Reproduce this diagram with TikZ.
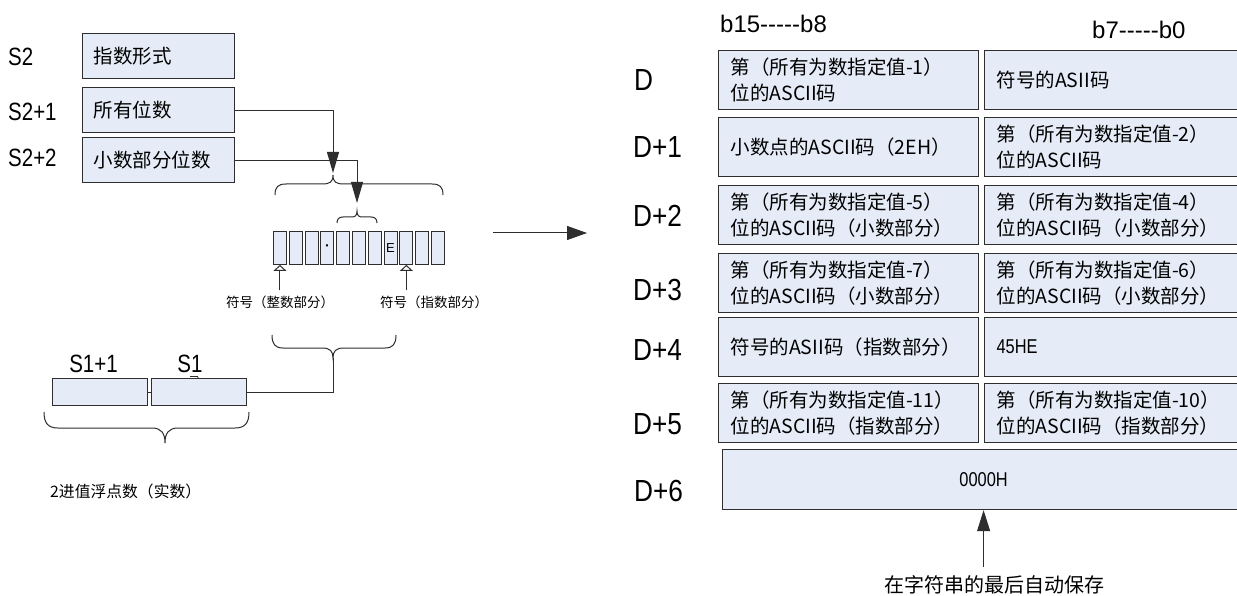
\documentclass[tikz,border=0pt]{standalone}
\usepackage{fontspec}
\setmainfont{Noto Sans CJK SC}
\newfontfamily\narrowf[FakeStretch=0.82]{Liberation Sans}
\newfontfamily\rownarrowf[FakeStretch=0.86]{Liberation Sans}
\newfontfamily\arialf{Liberation Sans}
\usetikzlibrary{arrows.meta}
\definecolor{boxfill}{HTML}{E6ECF7}
\definecolor{linec}{HTML}{2E2E2E}
\newcommand\myrowlbl{\rownarrowf\fontsize{30.5}{30.5}\selectfont}
\newcommand\myslbl{\narrowf\fontsize{25}{25}\selectfont}
\newcommand\mybitlbl{\arialf\fontsize{24}{24}\selectfont}
\newcommand\mytab{\fontsize{19.5}{26}\selectfont}
\newcommand\mysmall{\fontsize{13.5}{14}\selectfont}
\begin{document}
\begin{tikzpicture}[x=1pt,y=-1pt,
  tbox/.style={draw=linec, fill=boxfill, line width=1.2pt, anchor=north west,
    minimum height=59pt, text width=236pt, inner xsep=12pt, inner ysep=0pt,
    align=left, font=\mytab},
  sbox/.style={draw=linec, fill=boxfill, line width=1.2pt, anchor=north west,
    minimum height=45pt, text width=130pt, inner xsep=11pt, inner ysep=0pt,
    align=left, font=\mytab},
  fbox/.style={draw=linec, fill=boxfill, line width=1.2pt, anchor=north west,
    minimum height=27pt, minimum width=95pt, inner sep=0pt},
  cellbox/.style={draw=linec, fill=boxfill, line width=0.9pt, anchor=north west,
    minimum height=33pt, minimum width=13pt, inner sep=0pt},
  conn/.style={draw=linec, line width=1pt},
  bracep/.style={draw=linec, line width=1pt},
  solidtip/.style={-{Triangle[length=21pt,width=12pt]}},
  opentip/.style={-{Triangle[open,length=6pt,width=13pt]}},
  rowlbl/.style={anchor=west, inner sep=0pt, font=\myrowlbl},
  slbl/.style={anchor=west, inner sep=0pt, font=\myslbl},
]
\clip (0,0) rectangle (1237,596);
\fill[white] (0,0) rectangle (1237,596);

% ---------- left: S2 block ----------
\node[slbl] (ls2)  at (8,57)  {S2};
\node[slbl] (ls21) at (8,112) {S2+1};
\node[slbl] (ls22) at (8,158) {S2+2};
\node[sbox] (s2)  at (82,33)  {指数形式};
\node[sbox] (s21) at (82,87)  {所有位数};
\node[sbox] (s22) at (82,137) {小数部分位数};

% ---------- braces above the cells ----------
\draw[bracep] (275,195) .. controls (275,187) and (278,184) .. (286,184) -- (322,184)
  .. controls (330,184) and (333,182) .. (333,175)
  .. controls (333,182) and (336,184) .. (344,184) -- (432,184)
  .. controls (440,184) and (443,187) .. (443,195);
\draw[bracep] (337,223) .. controls (337,219) and (339,217) .. (343,217) -- (351,217)
  .. controls (355,217) and (357,216) .. (357,211)
  .. controls (357,216) and (359,217) .. (363,217) -- (371,217)
  .. controls (375,217) and (377,219) .. (377,223);

\coordinate (tipa) at (333,173);
\coordinate (tipb) at (357,203);
\draw[conn,solidtip] (s21.east) -| (tipa);
\draw[conn,solidtip] (s22.east) -| (tipb);

% ---------- cells ----------
\node[cellbox] (c1)  at (273.0,231) {};
\node[cellbox] (c2)  at (288.8,231) {};
\node[cellbox] (c3)  at (304.6,231) {};
\node[cellbox,font=\arialf\bfseries\fontsize{14}{14}\selectfont] (c4) at (320.4,231) {·};
\node[cellbox] (c5)  at (336.2,231) {};
\node[cellbox] (c6)  at (352.0,231) {};
\node[cellbox] (c7)  at (367.8,231) {};
\node[cellbox,font=\arialf\fontsize{13}{13}\selectfont] (c8) at (383.6,231) {E};
\node[cellbox] (c9)  at (399.4,231) {};
\node[cellbox] (c10) at (415.2,231) {};
\node[cellbox] (c11) at (431.0,231) {};

\node[inner sep=5pt, font=\mysmall] (sg1) at (280,302) {符号（整数部分）};
\node[inner sep=5pt, font=\mysmall] (sg2) at (434,302) {符号（指数部分）};
\draw[conn,opentip] (c1.south |- sg1.north) -- (c1.south);
\draw[conn,opentip] (c9.south |- sg2.north) -- (c9.south);

% ---------- brace below labels and S1 block ----------
\draw[bracep] (272,335) .. controls (272,344) and (275,348) .. (283,348) -- (322,348)
  .. controls (330,348) and (333,351) .. (333,358)
  .. controls (333,351) and (336,348) .. (344,348) -- (385,348)
  .. controls (393,348) and (396,344) .. (396,335);
\coordinate (bcusp) at (333,358);

\node[anchor=center, inner sep=0pt, font=\myslbl] (ls11) at (93.5,364) {S1+1};
\node[anchor=center, inner sep=0pt, font=\myslbl] (ls1)  at (190,364) {S1};
\draw[linec, line width=0.8pt] (190,376.5) -- (197.5,376.5) -- (198.5,378.5);
\node[fbox] (s11) at (52,378)  {};
\node[fbox] (s1)  at (151,378) {};
\draw[conn] (s11.east) -- (s1.west);
\draw[conn] (bcusp) |- (s1.east);

\draw[bracep] (44,412) .. controls (44,423) and (48,428) .. (58,428) -- (152,428)
  .. controls (161,428) and (165,433) .. (165,443)
  .. controls (165,433) and (169,428) .. (178,428) -- (235,428)
  .. controls (245,428) and (249,423) .. (249,412);
\node[anchor=west, inner sep=0pt, font=\fontsize{15.8}{16}\selectfont] (real) at (50,491) {2进值浮点数（实数）};

% ---------- middle arrow ----------
\coordinate (ma) at (493,233);
\coordinate (mb) at (587,233);
\draw[conn,-{Triangle[length=20pt,width=14pt]}] (ma) -- (mb);

% ---------- right table ----------
\node[anchor=west, inner sep=0pt, font=\mybitlbl] (bh) at (720,24) {b15-----b8};
\node[anchor=west, inner sep=0pt, font=\mybitlbl] (bl) at (1092,30) {b7-----b0};

\node[rowlbl] (r0) at (634,80)  {D};
\node[rowlbl] (r1) at (633,147) {D+1};
\node[rowlbl] (r2) at (633,216) {D+2};
\node[rowlbl] (r3) at (633,290) {D+3};
\node[rowlbl] (r4) at (633,350) {D+4};
\node[rowlbl] (r5) at (633,424) {D+5};
\node[rowlbl] (r6) at (634,491) {D+6};

\node[tbox] (d0l) at (718,50)  {第（所有为数指定值-1）\\位的ASCII码};
\node[tbox] (d0r) at (984,50)  {符号的ASII码};
\node[tbox] (d1l) at (718,117) {小数点的ASCII码（2EH）};
\node[tbox] (d1r) at (984,117) {第（所有为数指定值-2）\\位的ASCII码};
\node[tbox] (d2l) at (718,185) {第（所有为数指定值-5）\\位的ASCII码（小数部分）};
\node[tbox] (d2r) at (984,185) {第（所有为数指定值-4）\\位的ASCII码（小数部分）};
\node[tbox] (d3l) at (718,253) {第（所有为数指定值-7）\\位的ASCII码（小数部分）};
\node[tbox] (d3r) at (984,253) {第（所有为数指定值-6）\\位的ASCII码（小数部分）};
\node[tbox] (d4l) at (718,317) {符号的ASII码（指数部分）};
\node[tbox,font=\narrowf\fontsize{20}{26}\selectfont] (d4r) at (984,317) {45HE};
\node[tbox] (d5l) at (718,383) {第（所有为数指定值-11）\\位的ASCII码（指数部分）};
\node[tbox] (d5r) at (984,383) {第（所有为数指定值-10）\\位的ASCII码（指数部分）};
\node[tbox, text width=498pt, align=center, minimum height=60pt,
      font=\narrowf\fontsize{20}{26}\selectfont] (d6) at (722,449) {0000H};

\node[inner sep=9pt, font=\fontsize{20}{20}\selectfont] (note) at (994,585) {在字符串的最后自动保存};
\draw[conn,-{Triangle[length=21pt,width=13pt]}] (d6.south |- note.north) -- (d6.south);
\end{tikzpicture}
\end{document}
